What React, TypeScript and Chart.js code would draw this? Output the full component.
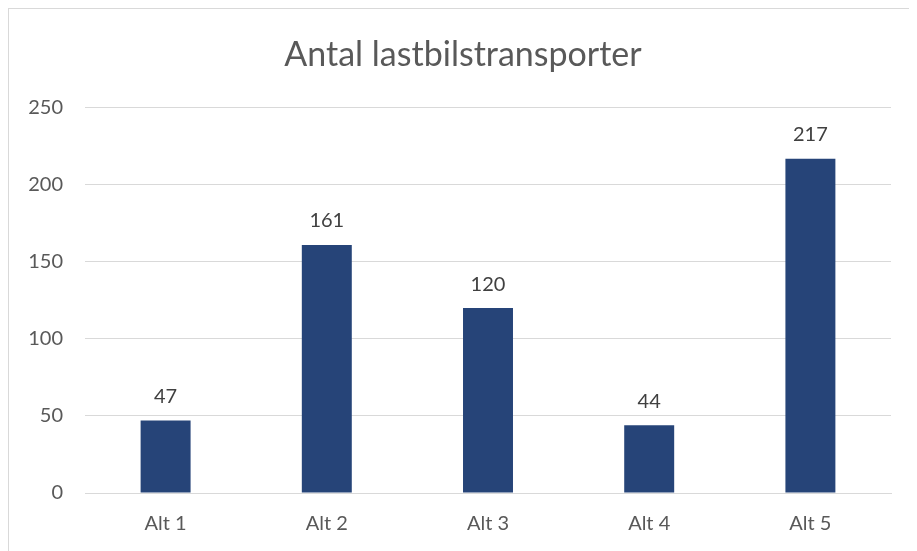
import React, { useEffect, useRef } from "react";
import { Chart, registerables } from "chart.js";

Chart.register(...registerables);

const categories = ["Alt 1", "Alt 2", "Alt 3", "Alt 4", "Alt 5"];
const values = [47, 161, 120, 44, 217];
const yTicks = [0, 50, 100, 150, 200, 250];
const titleText = "Antal lastbilstransporter";

const FONT = "Lato, 'Open Sans', sans-serif";

const valueLabels = {
  id: "valueLabels",
  afterDatasetsDraw(chart: any) {
    const ctx = chart.ctx;
    const meta = chart.getDatasetMeta(0);
    ctx.save();
    ctx.fillStyle = "#404040";
    ctx.font = `20px ${FONT}`;
    ctx.textAlign = "center";
    ctx.textBaseline = "middle";
    meta.data.forEach((bar: any, i: number) => {
      ctx.fillText(String(values[i]), bar.x, bar.y - 24);
    });
    ctx.restore();
  },
};

export default function App() {
  const ref = useRef<HTMLCanvasElement>(null);
  useEffect(() => {
    if (!ref.current) return;
    const chart = new Chart(ref.current, {
      type: "bar",
      data: {
        labels: categories,
        datasets: [
          {
            data: values,
            backgroundColor: "#264478",
            barPercentage: 0.31,
            categoryPercentage: 1,
            yAxisID: "y",
          },
        ],
      },
      options: {
        animation: false,
        responsive: false,
        maintainAspectRatio: false,
        layout: { padding: 0 },
        plugins: {
          legend: { display: false },
          tooltip: { enabled: false },
          title: {
            display: true,
            text: titleText,
            color: "#595959",
            font: { family: FONT, size: 34, weight: "normal" },
            padding: { top: 26, bottom: 32 },
          },
        },
        scales: {
          x: {
            grid: { display: false },
            border: { display: true, color: "#d9d9d9", width: 1 },
            ticks: {
              color: "#595959",
              font: { family: FONT, size: 20 },
              padding: 11,
            },
            afterFit(scale: any) {
              scale.height = 58;
            },
          },
          y: {
            position: "left",
            min: 0,
            max: 250,
            afterBuildTicks(scale: any) {
              scale.ticks = yTicks.map((v) => ({ value: v }));
            },
            grid: { color: "#d9d9d9", drawTicks: false, lineWidth: 1 },
            border: { display: false },
            ticks: {
              color: "#595959",
              font: { family: FONT, size: 20 },
              padding: 22,
            },
            afterFit(scale: any) {
              scale.width = 76;
            },
          },
          yRight: {
            position: "right",
            min: 0,
            max: 250,
            grid: { display: false, drawTicks: false },
            border: { display: false },
            ticks: { display: false },
            afterFit(scale: any) {
              scale.width = 26;
            },
          },
        },
      },
      plugins: [valueLabels],
    });
    return () => chart.destroy();
  }, []);

  return (
    <div
      style={{
        width: 909,
        height: 543,
        borderLeft: "1px solid #d9d9d9",
        borderTop: "1px solid #d9d9d9",
        background: "#fff",
        boxSizing: "border-box",
      }}
    >
      <canvas ref={ref} width={908} height={542} style={{ display: "block" }} />
    </div>
  );
}
